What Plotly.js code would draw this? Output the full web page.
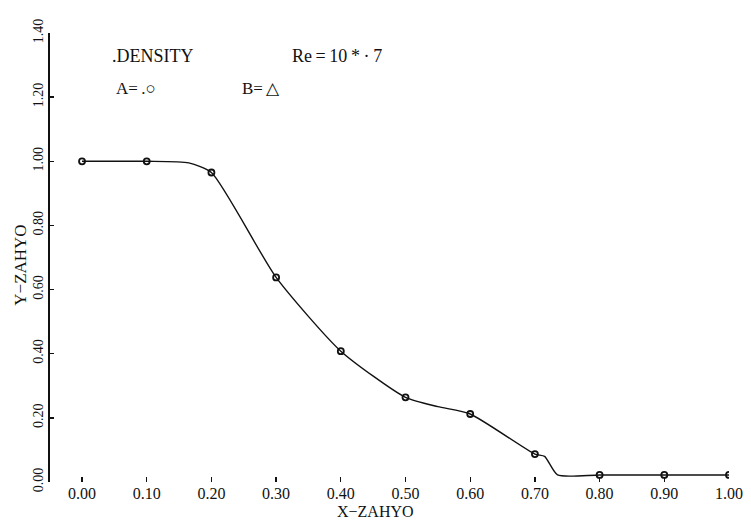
<!DOCTYPE html>
<html>
<head>
<meta charset="utf-8">
<script src="https://cdn.plot.ly/plotly-3.0.1.min.js"></script>
<style>html,body{margin:0;padding:0;background:#fff;}#chart{width:751px;height:524px;}</style>
</head>
<body>
<div id="chart"></div>
<script>
// Data points (series A, open circles)
const xA = [0.00, 0.10, 0.20, 0.30, 0.40, 0.50, 0.60, 0.70, 0.80, 0.90, 1.00];
const yA = [1.00, 1.00, 0.965, 0.638, 0.408, 0.264, 0.212, 0.087, 0.022, 0.022, 0.022];
// Points
const xCurve = [0.00, 0.10, 0.165, 0.20, 0.30, 0.40, 0.50, 0.55, 0.60, 0.70, 0.715, 0.735, 0.80, 0.90, 1.00];
const yCurve = [1.00, 1.00, 0.995, 0.965, 0.638, 0.408, 0.264, 0.235, 0.212, 0.087, 0.080, 0.022, 0.022, 0.022, 0.022];
// Tick labels
const xTicks = [0.0, 0.1, 0.2, 0.3, 0.4, 0.5, 0.6, 0.7, 0.8, 0.9, 1.0];
const xTickText = ["0.00", "0.10", "0.20", "0.30", "0.40", "0.50", "0.60", "0.70", "0.80", "0.90", "1.00"];
const yTicks = [0.0, 0.2, 0.4, 0.6, 0.8, 1.0, 1.2, 1.4];
const yTickText = ["0.00", "0.20", "0.40", "0.60", "0.80", "1.00", "1.20", "1.40"];

const FONT = "Liberation Serif, Times New Roman, serif";
const INK = "#111";

const traces = [
  {
    x: xCurve, y: yCurve, mode: "lines", type: "scatter",
    line: {color: INK, width: 1.4, shape: "spline", smoothing: 0.6},
    hoverinfo: "skip", showlegend: false
  },
  {
    x: xA, y: yA, mode: "markers", type: "scatter",
    marker: {symbol: "circle-open", size: 6, color: INK, line: {width: 1.8, color: INK}},
    showlegend: false
  }
];

const layout = {
  width: 751, height: 524,
  margin: {l: 50, r: 22, t: 33, b: 42, pad: 0},
  paper_bgcolor: "#fff", plot_bgcolor: "#fff",
  showlegend: false,
  font: {family: FONT, color: INK, size: 14},
  xaxis: {
    range: [-0.0495, 1.0],
    tickmode: "array", tickvals: xTicks, ticktext: xTickText,
    ticks: "inside", ticklen: 5, tickwidth: 1.3, tickcolor: INK,
    showline: false, showgrid: false, zeroline: false,
    tickfont: {family: FONT, size: 16, color: INK},
    automargin: false
  },
  yaxis: {
    range: [0, 1.4],
    tickmode: "array", tickvals: yTicks, ticktext: yTickText,
    ticks: "inside", ticklen: 4, tickwidth: 1.3, tickcolor: INK,
    showline: true, linecolor: INK, linewidth: 1.8,
    showgrid: false, zeroline: false,
    tickangle: -90,
    tickfont: {family: FONT, size: 14, color: INK},
    automargin: false
  },
  shapes: [
    {type: "line", xref: "x", yref: "y", x0: 0, x1: 1, y0: -0.003, y1: -0.003,
     line: {color: INK, width: 1.8}}
  ],
  annotations: [
    {xref: "paper", yref: "paper", x: 0.088, y: 0.949, xanchor: "left", yanchor: "middle",
     text: ".DENSITY", showarrow: false, font: {family: FONT, size: 18, color: INK}},
    {xref: "paper", yref: "paper", x: 0.353, y: 0.949, xanchor: "left", yanchor: "middle",
     text: "Re\u2009=\u200910\u2009*\u2009\u00b7\u20097", showarrow: false, font: {family: FONT, size: 18, color: INK}},
    {xref: "paper", yref: "paper", x: 0.094, y: 0.877, xanchor: "left", yanchor: "middle",
     text: "A=\u2009.\u25cb", showarrow: false, font: {family: FONT, size: 17, color: INK}},
    {xref: "paper", yref: "paper", x: 0.28, y: 0.877, xanchor: "left", yanchor: "middle",
     text: "B=\u2009\u25b3", showarrow: false, font: {family: FONT, size: 17, color: INK}},
    // axis titles
    {xref: "paper", yref: "paper", x: 0.48, y: -0.066, xanchor: "center", yanchor: "middle",
     text: "X\u2212ZAHYO", showarrow: false, font: {family: FONT, size: 16, color: INK}},
    {xref: "paper", yref: "paper", x: -0.044, y: 0.482, xanchor: "center", yanchor: "middle",
     textangle: -90,
     text: "Y\u2212ZAHYO", showarrow: false, font: {family: FONT, size: 17, color: INK}}
  ]
};

Plotly.newPlot("chart", traces, layout, {staticPlot: true, displayModeBar: false});
</script>
</body>
</html>
